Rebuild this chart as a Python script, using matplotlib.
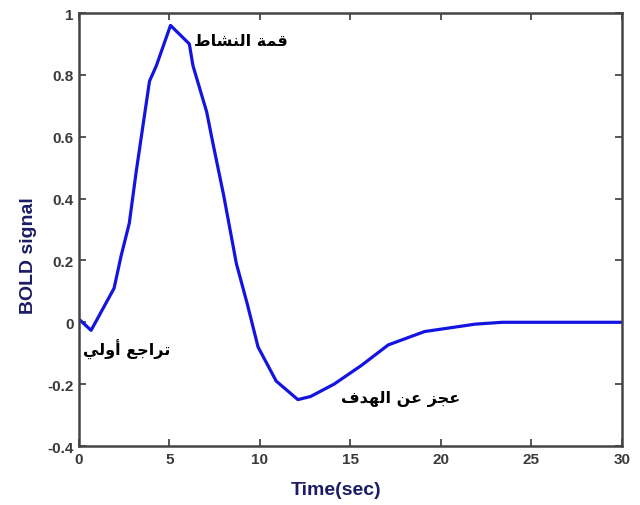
import matplotlib
matplotlib.use('Agg')
import matplotlib.pyplot as plt

# Curva BOLD
t = [0, 0.67, 1.94, 2.33, 2.78, 3.17, 3.56, 3.9, 4.28, 5.06, 6.1, 6.3, 7.06, 7.4, 8.0,
     8.7, 9.3, 9.9, 10.9, 12.1, 12.8, 14.1, 15.6, 17.1, 19.1, 21.9, 23.4, 30]
bold = [0.01, -0.026, 0.11, 0.215, 0.32, 0.49, 0.645, 0.78, 0.83, 0.96, 0.90, 0.83, 0.68, 0.58, 0.41,
        0.19, 0.06, -0.08, -0.19, -0.25, -0.24, -0.20, -0.14, -0.073, -0.03, -0.006, 0.0, 0.0]

labels = ['قمة النشاط', 'تراجع أولي', 'عجز عن الهدف']
label_x = [6.35, 0.25, 14.5]
label_y = [0.91, -0.085, -0.245]

xticks = [0, 5, 10, 15, 20, 25, 30]
yticks = [-0.4, -0.2, 0, 0.2, 0.4, 0.6, 0.8, 1]

# formas de apresentacao arabes (isolada, final, inicial, medial)
forms = {
    'ا': ('\uFE8D', '\uFE8E', None, None),
    'أ': ('\uFE83', '\uFE84', None, None),
    'ت': ('\uFE95', '\uFE96', '\uFE97', '\uFE98'),
    'ة': ('\uFE93', '\uFE94', None, None),
    'ج': ('\uFE9D', '\uFE9E', '\uFE9F', '\uFEA0'),
    'د': ('\uFEA9', '\uFEAA', None, None),
    'ر': ('\uFEAD', '\uFEAE', None, None),
    'ز': ('\uFEAF', '\uFEB0', None, None),
    'ش': ('\uFEB5', '\uFEB6', '\uFEB7', '\uFEB8'),
    'ط': ('\uFEC1', '\uFEC2', '\uFEC3', '\uFEC4'),
    'ع': ('\uFEC9', '\uFECA', '\uFECB', '\uFECC'),
    'ف': ('\uFED1', '\uFED2', '\uFED3', '\uFED4'),
    'ق': ('\uFED5', '\uFED6', '\uFED7', '\uFED8'),
    'ل': ('\uFEDD', '\uFEDE', '\uFEDF', '\uFEE0'),
    'م': ('\uFEE1', '\uFEE2', '\uFEE3', '\uFEE4'),
    'ن': ('\uFEE5', '\uFEE6', '\uFEE7', '\uFEE8'),
    'ه': ('\uFEE9', '\uFEEA', '\uFEEB', '\uFEEC'),
    'و': ('\uFEED', '\uFEEE', None, None),
    'ي': ('\uFEF1', '\uFEF2', '\uFEF3', '\uFEF4'),
}

def shape(s):
    out = []
    for i, c in enumerate(s):
        if c not in forms:
            out.append(c)
            continue
        prev = s[i - 1] if i > 0 else ' '
        nxt = s[i + 1] if i < len(s) - 1 else ' '
        p = prev in forms and forms[prev][2] is not None
        n = forms[c][2] is not None and nxt in forms
        if p and n:
            out.append(forms[c][3])
        elif p:
            out.append(forms[c][1])
        elif n:
            out.append(forms[c][2])
        else:
            out.append(forms[c][0])
    return ''.join(out)[::-1]

plt.rcParams['font.family'] = ['Liberation Sans', 'DejaVu Sans']

fig = plt.figure(figsize=(6.4, 5.06), dpi=100)
ax = fig.add_axes([0.1234, 0.1166, 0.848, 0.8557])
ax.plot(t, bold, color='#1414e0', lw=2.3)

for lab, x, y in zip(labels, label_x, label_y):
    ax.text(x, y, shape(lab), fontsize=11.5, fontweight='bold', color='black',
            va='center', ha='left', family='DejaVu Sans')

ax.set_xlim(0, 30)
ax.set_ylim(-0.4, 1)
ax.set_xticks(xticks)
ax.set_yticks(yticks)
ax.set_xticklabels([str(v) for v in xticks])
ax.set_yticklabels(['-0.4', '-0.2', '0', '0.2', '0.4', '0.6', '0.8', '1'])
ax.tick_params(direction='in', top=True, right=True, length=5, width=1.2,
               colors='#3a3a3a', labelsize=11, pad=4)
for lbl in ax.get_xticklabels() + ax.get_yticklabels():
    lbl.set_fontweight('bold')
for sp in ax.spines.values():
    sp.set_color('#444444')
    sp.set_linewidth(1.8)

ax.set_xlabel('Time(sec)', fontsize=14, fontweight='bold', color='#1c1c66')
ax.set_ylabel('BOLD signal', fontsize=14, fontweight='bold', color='#1c1c66')
ax.xaxis.set_label_coords(0.473, -0.08)
ax.yaxis.set_label_coords(-0.077, 0.441)

fig.savefig('out.png', dpi=100)
